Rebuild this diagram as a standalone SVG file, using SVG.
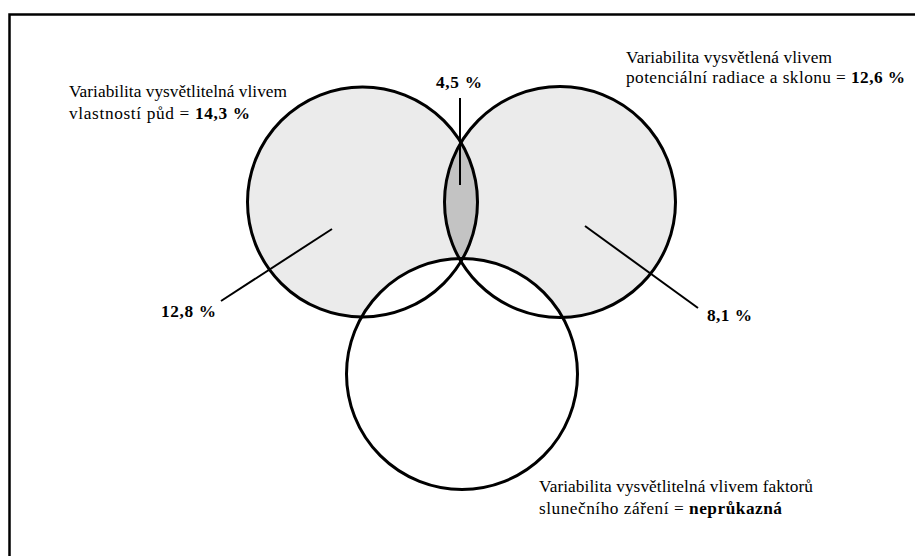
<svg xmlns="http://www.w3.org/2000/svg" width="915" height="556" viewBox="0 0 915 556">
<style>
  text { font-family: "Liberation Serif", "Times New Roman", serif; font-size: 17.3px; fill: #000; }
  .b { font-weight: bold; }
  .ring { fill: none; stroke: #000; stroke-width: 3; }
  .lead { stroke: #000; stroke-width: 2; fill: none; }
</style>
<defs>
  <clipPath id="clipL"><circle cx="362.5" cy="202" r="115"/></clipPath>
</defs>
<rect x="0" y="0" width="915" height="556" fill="#fff"/>
<rect id="frame" x="9.5" y="14.5" width="920" height="560" fill="none" stroke="#000" stroke-width="2.5"/>

<g id="fills">
  <circle cx="362.5" cy="202" r="115" fill="#ebebeb"/>
  <circle cx="560" cy="202" r="115.5" fill="#ebebeb"/>
  <circle cx="560" cy="202" r="115.5" fill="#c3c3c3" clip-path="url(#clipL)"/>
  <circle cx="462" cy="374" r="115.5" fill="#fff"/>
</g>

<g id="soil">
  <circle class="ring" cx="362.5" cy="202" r="115"/>
  <text x="69" y="97" textLength="218" lengthAdjust="spacing">Variabilita vysvětlitelná vlivem</text>
  <text x="69" y="118.5" textLength="181" lengthAdjust="spacing">vlastností půd = <tspan class="b">14,3 %</tspan></text>
  <text class="b" x="161" y="317" textLength="55" lengthAdjust="spacing">12,8 %</text>
</g>

<g id="radiation">
  <circle class="ring" cx="560" cy="202" r="115.5"/>
  <text x="626" y="62.5" textLength="206" lengthAdjust="spacing">Variabilita vysvětlená vlivem</text>
  <text x="626" y="82.5" textLength="279" lengthAdjust="spacing">potenciální radiace a sklonu = <tspan class="b">12,6 %</tspan></text>
  <text class="b" x="707" y="321" textLength="45" lengthAdjust="spacing">8,1 %</text>
</g>

<g id="overlap">
  <text class="b" x="436" y="88" textLength="46" lengthAdjust="spacing">4,5 %</text>
</g>

<g id="solar">
  <circle class="ring" cx="462" cy="374" r="115.5"/>
  <text x="539" y="492" textLength="274" lengthAdjust="spacing">Variabilita vysvětlitelná vlivem faktorů</text>
  <text x="539" y="513.5" textLength="243" lengthAdjust="spacing">slunečního záření = <tspan class="b">neprůkazná</tspan></text>
</g>

<g id="connectors">
  <line class="lead" x1="460" y1="98" x2="460" y2="185"/>
  <line class="lead" x1="332" y1="229" x2="221" y2="301"/>
  <line class="lead" x1="585" y1="226" x2="698" y2="308"/>
</g>
</svg>
